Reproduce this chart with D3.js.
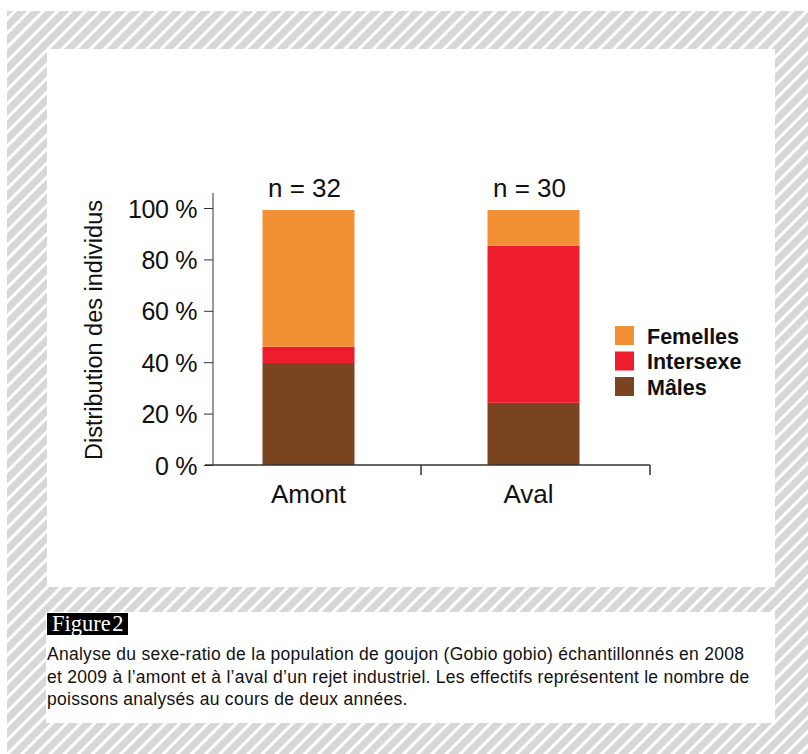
<!DOCTYPE html>
<html>
<head>
<meta charset="utf-8">
<script src="https://cdn.jsdelivr.net/npm/d3@7"></script>
<style>
  body { margin: 0; background: #fff; }
  svg { display: block; font-family: "Liberation Sans", Arial, Helvetica, sans-serif; }
  .axis path, .axis line { stroke: #333; }
</style>
</head>
<body>
<svg id="chart" width="808" height="754"></svg>
<script>
// data (percent of individuals)
var sites = ["Amont", "Aval"];
var counts = ["n = 32", "n = 30"];
var classes = ["Mâles", "Intersexe", "Femelles"];
var males = [39.7, 24.2];
var intersex = [6.3, 61.1];
var females = [53.2, 13.9];
var yTicks = [0, 20, 40, 60, 80, 100];
var colours = { "Mâles": "#7b4420", "Intersexe": "#ee1c2e", "Femelles": "#f39035" };

var caption = [
    "Analyse du sexe-ratio de la population de goujon (Gobio gobio) échantillonnés en 2008",
    "et 2009 à l’amont et à l’aval d’un rejet industriel. Les effectifs représentent le nombre de",
    "poissons analysés au cours de deux années."
];

var svg = d3.select("#chart");

// hatched background
var defs = svg.append("defs");
defs.append("pattern")
    .attr("id", "hatch")
    .attr("patternUnits", "userSpaceOnUse")
    .attr("width", 10)
    .attr("height", 10)
    .attr("patternTransform", "rotate(45)")
  .append("rect")
    .attr("width", 7)
    .attr("height", 10)
    .attr("fill", "#d6d8d7");

svg.append("rect")
    .attr("x", 7).attr("y", 11)
    .attr("width", 801).attr("height", 743)
    .attr("fill", "url(#hatch)");

// white panels
svg.append("rect").attr("x", 47).attr("y", 49).attr("width", 728).attr("height", 538).attr("fill", "#fff");
svg.append("rect").attr("x", 46).attr("y", 612).attr("width", 729).attr("height", 111).attr("fill", "#fff");

// stacked data
var table = sites.map(function(s, i) {
    return { site: s, "Mâles": males[i], "Intersexe": intersex[i], "Femelles": females[i] };
});
var stacked = d3.stack().keys(classes)(table);

var x = d3.scaleBand().domain(sites).range([196, 646]);
var y = d3.scaleLinear().domain([0, 100]).range([465, 208]);
var barWidth = 92;

var g = svg.append("g");

g.selectAll(".layer")
    .data(stacked)
    .enter().append("g")
    .attr("class", "layer")
    .attr("fill", function(d) { return colours[d.key]; })
  .selectAll("rect")
    .data(function(d) { return d; })
    .enter().append("rect")
    .attr("x", function(d) { return x(d.data.site) + x.bandwidth() / 2 - barWidth / 2; })
    .attr("width", barWidth)
    .attr("y", function(d) { return y(d[1]); })
    .attr("height", function(d) { return y(d[0]) - y(d[1]); });

// y axis
var yAxis = d3.axisLeft(y)
    .tickValues(yTicks)
    .tickSize(9)
    .tickPadding(7)
    .tickFormat(function(d) { return d + " %"; });

var gy = g.append("g")
    .attr("class", "axis")
    .attr("transform", "translate(213,0)")
    .call(yAxis);
gy.select(".domain").remove();
gy.append("line")
    .attr("x1", 0).attr("x2", 0)
    .attr("y1", 193).attr("y2", y(0))
    .attr("stroke", "#333");
gy.selectAll("text")
    .attr("fill", "#111")
    .attr("font-size", 25)
    .attr("letter-spacing", -0.4)
    .attr("dy", "0.36em");

// x axis
var gx = g.append("g").attr("class", "axis");
gx.append("line")
    .attr("x1", 205).attr("x2", 650)
    .attr("y1", y(0)).attr("y2", y(0))
    .attr("stroke", "#333").attr("stroke-width", 1.5);
gx.selectAll(".xtick")
    .data([x(sites[1]), 650])
    .enter().append("line")
    .attr("class", "xtick")
    .attr("x1", function(d) { return d; })
    .attr("x2", function(d) { return d; })
    .attr("y1", y(0)).attr("y2", y(0) + 10)
    .attr("stroke", "#555").attr("stroke-width", 1.5);
gx.selectAll(".xlabel")
    .data(sites)
    .enter().append("text")
    .attr("class", "xlabel")
    .attr("x", function(d, i) { return x(d) + x.bandwidth() / 2 - i * 5; })
    .attr("y", 503)
    .attr("text-anchor", "middle")
    .attr("font-size", 26)
    .attr("fill", "#111")
    .text(function(d) { return d; });

// sample sizes
g.selectAll(".count")
    .data(sites)
    .enter().append("text")
    .attr("class", "count")
    .attr("x", function(d) { return x(d) + x.bandwidth() / 2 - 4; })
    .attr("y", 197)
    .attr("text-anchor", "middle")
    .attr("font-size", 26)
    .attr("fill", "#111")
    .text(function(d, i) { return counts[i]; });

// y axis title
g.append("text")
    .attr("transform", "translate(102,330) rotate(-90)")
    .attr("text-anchor", "middle")
    .attr("font-size", 23.5)
    .attr("fill", "#111")
    .text("Distribution des individus");

// legend
var legend = g.selectAll(".legend")
    .data(classes.slice().reverse())
    .enter().append("g")
    .attr("class", "legend")
    .attr("transform", function(d, i) { return "translate(615," + (326 + i * 25.5) + ")"; });
legend.append("rect")
    .attr("width", 19).attr("height", 19)
    .attr("fill", function(d) { return colours[d]; });
legend.append("text")
    .attr("x", 32).attr("y", 17.5)
    .attr("font-size", 21.5)
    .attr("font-weight", "bold")
    .attr("fill", "#111")
    .text(function(d) { return d; });

// caption
svg.append("rect").attr("x", 47).attr("y", 613).attr("width", 81).attr("height", 22).attr("fill", "#000");
svg.append("text")
    .attr("x", 52).attr("y", 631)
    .attr("font-family", "'Liberation Serif', 'DejaVu Serif', serif")
    .attr("font-size", 22.5)
    .attr("word-spacing", -4)
    .attr("fill", "#fff")
    .text("Figure 2");

svg.append("g").selectAll("text")
    .data(caption)
    .enter().append("text")
    .attr("x", 47)
    .attr("y", function(d, i) { return 660 + i * 22.5; })
    .attr("font-size", 17.5)
    .attr("letter-spacing", 0.27)
    .attr("fill", "#111")
    .text(function(d) { return d; });
</script>
</body>
</html>
